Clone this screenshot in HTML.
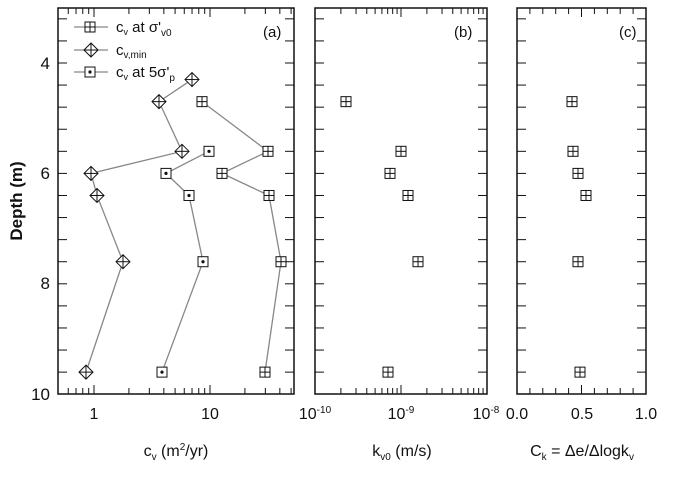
<!DOCTYPE html>
<html><head><meta charset="utf-8"><style>
body{margin:0;background:#fff}
svg{display:block;font-family:"Liberation Sans",sans-serif}
</style></head><body>
<svg id="s" width="677" height="477" viewBox="0 0 677 477" xmlns="http://www.w3.org/2000/svg">
<rect width="677" height="477" fill="#fff"/>
<g id="g"></g>
<g font-size="17" fill="#111">
<text x="50" y="69" text-anchor="end">4</text>
<text x="50" y="179" text-anchor="end">6</text>
<text x="50" y="289" text-anchor="end">8</text>
<text x="50" y="400" text-anchor="end">10</text>
<text x="94" y="419" text-anchor="middle" font-size="16">1</text>
<text x="210" y="419" text-anchor="middle" font-size="16">10</text>
<text x="315" y="419" text-anchor="middle" font-size="16">10<tspan dy="-6" font-size="10">-10</tspan></text>
<text x="401" y="419" text-anchor="middle" font-size="16">10<tspan dy="-6" font-size="10">-9</tspan></text>
<text x="486" y="419" text-anchor="middle" font-size="16">10<tspan dy="-6" font-size="10">-8</tspan></text>
<text x="517" y="419" text-anchor="middle" font-size="16">0.0</text>
<text x="582" y="419" text-anchor="middle" font-size="16">0.5</text>
<text x="646" y="419" text-anchor="middle" font-size="16">1.0</text>
<text x="176" y="456" text-anchor="middle" font-size="16">c<tspan font-size="10" dy="4">v</tspan><tspan dy="-4"> (m</tspan><tspan font-size="10" dy="-6">2</tspan><tspan dy="6">/yr)</tspan></text>
<text x="402" y="456" text-anchor="middle" font-size="16">k<tspan font-size="10" dy="4">v0</tspan><tspan dy="-4"> (m/s)</tspan></text>
<text x="582" y="456" text-anchor="middle" font-size="16">C<tspan font-size="10" dy="4">k</tspan><tspan dy="-4"> = Δe/Δlogk</tspan><tspan font-size="10" dy="4">v</tspan></text>
<text transform="translate(22,201) rotate(-90)" text-anchor="middle" font-size="17" font-weight="bold">Depth (m)</text>
<text x="263" y="37" font-size="15">(a)</text>
<text x="454" y="37" font-size="15">(b)</text>
<text x="619" y="37" font-size="15">(c)</text>
<text x="116" y="32" font-size="15">c<tspan font-size="9" dy="3">v</tspan><tspan dy="-3"> at σ'</tspan><tspan font-size="10" dy="4">v0</tspan></text>
<text x="116" y="55" font-size="15">c<tspan font-size="10" dy="3">v,min</tspan></text>
<text x="116" y="77" font-size="15">c<tspan font-size="9" dy="3">v</tspan><tspan dy="-3"> at 5σ'</tspan><tspan font-size="10" dy="4">p</tspan></text>
</g>
</svg>
<script>
var g=document.getElementById('g'),h='';
function L(x1,y1,x2,y2,c,w){h+='<line x1="'+x1+'" y1="'+y1+'" x2="'+x2+'" y2="'+y2+'" stroke="'+(c||'#111')+'" stroke-width="'+(w||1)+'"/>';}
function Y(d){return 63+(d-4)*55.2;}
var P=[[58,294],[315,487],[517,646]];
P.forEach(function(p){
 h+='<rect x="'+p[0]+'" y="8" width="'+(p[1]-p[0])+'" height="386" fill="none" stroke="#111" stroke-width="1.5"/>';
 for(var d=3.2;d<10;d+=0.4){var y=Y(d);L(p[0],y,p[0]+9,y);L(p[1],y,p[1]-9,y);}
});
function xa(v){return 94+Math.log10(v)*116;}
[0.6,0.7,0.8,0.9,1,2,3,4,5,6,7,8,9,10,20,30,40,50].forEach(function(v){var x=xa(v);var l=(v==1||v==10)?9:6;L(x,394,x,394-l);L(x,8,x,8+l);});
function xb(v){return 315+(Math.log10(v)+10)*86;}
[1,1e1].forEach(function(m){for(var k=1;k<10;k++){var v=k*m*1e-10;var x=xb(v);var l=k==1?9:6;L(x,394,x,394-l);L(x,8,x,8+l);}});
for(var i=1;i<10;i++){var x=517+i*12.9;var l=i==5?9:6;L(x,394,x,394-l);L(x,8,x,8+l);}
function sq(x,y){h+='<rect x="'+(x-5)+'" y="'+(y-5)+'" width="10" height="10" fill="#fff" stroke="#111"/>';L(x,y-5,x,y+5);L(x-5,y,x+5,y);}
function dsq(x,y){h+='<rect x="'+(x-5)+'" y="'+(y-5)+'" width="10" height="10" fill="#fff" stroke="#111"/><circle cx="'+x+'" cy="'+y+'" r="1.6" fill="#111"/>';}
function dia(x,y){h+='<polygon points="'+x+','+(y-7)+' '+(x+7)+','+y+' '+x+','+(y+7)+' '+(x-7)+','+y+'" fill="#fff" stroke="#111"/>';L(x,y-7,x,y+7);L(x-7,y,x+7,y);}
var A=[[4.7,202],[5.6,268],[6.0,222],[6.4,269],[7.6,281],[9.6,265]];
var B=[[4.3,192],[4.7,159],[5.6,182],[6.0,91],[6.4,97],[7.6,123],[9.6,86]];
var C=[[5.6,209],[6.0,166],[6.4,189],[7.6,203],[9.6,162]];
function line(a){var s='';a.forEach(function(p){s+=p[1]+','+Y(p[0])+' ';});h+='<polyline points="'+s+'" fill="none" stroke="#888" stroke-width="1.3"/>';}
line(A);line(B);line(C);
A.forEach(function(p){sq(p[1],Y(p[0]));});
B.forEach(function(p){dia(p[1],Y(p[0]));});
C.forEach(function(p){dsq(p[1],Y(p[0]));});
[[4.7,346],[5.6,401],[6.0,390],[6.4,408],[7.6,418],[9.6,388]].forEach(function(p){sq(p[1],Y(p[0]));});
[[4.7,572],[5.6,573],[6.0,578],[6.4,586],[7.6,578],[9.6,580]].forEach(function(p){sq(p[1],Y(p[0]));});
L(74,27,108,27,'#888',1.3);sq(90,27);
L(74,50,108,50,'#888',1.3);dia(91,50);
L(74,72,108,72,'#888',1.3);dsq(90,72);
g.innerHTML=h;
</script>
</body></html>
